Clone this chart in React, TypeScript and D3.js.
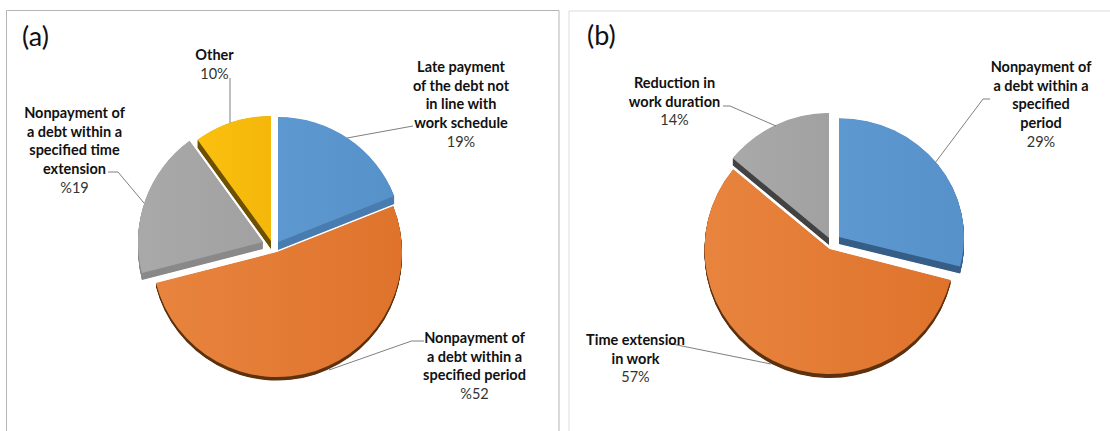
import React from "react";
import * as d3 from "d3";

// Survey shares for each panel, in clockwise order from twelve o'clock.
const seriesA = [19, 52, 19, 10];
const seriesB = [29, 57, 14];

const labelsA = [
  ["Late payment", "of the debt not", "in line with", "work schedule"],
  ["Nonpayment of", "a debt within a", "specified period"],
  ["Nonpayment of", "a debt within a", "specified time", "extension"],
  ["Other"],
];
const labelsB = [
  ["Nonpayment of", "a debt within a", "specified", "period"],
  ["Time extension", "in work"],
  ["Reduction in", "work duration"],
];
const valueTextA = ["19%", "%52", "%19", "10%"];
const valueTextB = ["29%", "57%", "14%"];

const W = 1110;
const H = 431;
const R = 125;
const FONT = "Lato, 'Open Sans', sans-serif";
const LINE_H = 18.7;

type Tone = { id: string; from: string; to: string; side: string };
const TONES: Record<string, Tone> = {
  blue: { id: "g-blue", from: "#5e98d0", to: "#5791c9", side: "#4a7db0" },
  orange: { id: "g-orange", from: "#e8843e", to: "#df732c", side: "#5e3310" },
  gray: { id: "g-gray", from: "#a9a9a9", to: "#a1a1a1", side: "#8a8a8a" },
  yellow: { id: "g-yellow", from: "#fbc00f", to: "#f4b70a", side: "#6f5200" },
  blueDark: { id: "g-blue2", from: "#5e98d0", to: "#5791c9", side: "#375f88" },
  grayDark: { id: "g-gray2", from: "#a9a9a9", to: "#a1a1a1", side: "#444444" },
};

// Layout of each exploded wedge: offset from the pie centre, extrusion depth
// and the vertical foreshortening from the tilted view.
const layoutA = {
  cx: 272,
  cy: 244,
  tones: ["blue", "orange", "gray", "yellow"],
  shift: [[6, -2], [5, 8], [-9, -2], [-1, -3]],
  depth: [8, 3.5, 7, 8],
  squash: [1, 1, 1, 1],
  textAt: [[461, 66], [474.5, 337], [74.5, 112], [214.5, 54]],
  leaders: [
    [[413, 126], [347, 138]],
    [[424, 341], [411.5, 341], [329, 370]],
    [[108, 172], [118, 172], [144, 203]],
    [[230, 78], [230, 123]],
  ],
};
const layoutB = {
  cx: 832,
  cy: 243,
  tones: ["blueDark", "orange", "grayDark"],
  shift: [[7, -6], [-2.5, 6], [-3, -5]],
  depth: [7, 4, 7],
  squash: [0.95, 1, 1],
  textAt: [[1041, 66], [635.5, 339], [674.5, 82]],
  leaders: [
    [[990, 99], [983, 99], [935, 163]],
    [[669, 343], [677, 345], [771, 364]],
    [[723, 106], [730, 106], [776, 126]],
  ],
};

const pieGen = d3.pie<number>().sort(null).startAngle(0).endAngle(2 * Math.PI);
const arcGen = d3.arc<d3.PieArcDatum<number>>().innerRadius(0).outerRadius(R);
const linePath = d3.line<number[]>().x((p) => p[0]).y((p) => p[1]);

function Pie({
  values,
  labels,
  valueText,
  layout,
}: {
  values: number[];
  labels: string[][];
  valueText: string[];
  layout: typeof layoutA;
}) {
  const slices = pieGen(values);
  return (
    <g>
      {slices.map((s, i) => {
        const tone = TONES[layout.tones[i]];
        const [dx, dy] = layout.shift[i];
        const d = arcGen(s) as string;
        const x = layout.cx + dx;
        const y = layout.cy + dy;
        const sy = layout.squash[i];
        return (
          <g key={i}>
            {/* Extruded wall: the wedge repeated downward in its darker shade */}
            {d3.range(layout.depth[i], 0, -0.5).map((k) => (
              <path key={k} d={d} transform={`translate(${x},${y + k}) scale(1,${sy})`} fill={tone.side} />
            ))}
            <path
              d={d}
              transform={`translate(${x},${y}) scale(1,${sy})`}
              fill={`url(#${tone.id})`}
            />
          </g>
        );
      })}
      {layout.leaders.map((pts, i) => (
        <path key={i} d={linePath(pts) as string} fill="none" stroke="#7f7f7f" strokeWidth={1} />
      ))}
      {labels.map((lines, i) => {
        const [tx, ty] = layout.textAt[i];
        return (
          <text key={i} x={tx} textAnchor="middle" dominantBaseline="central" fontFamily={FONT} fontSize={14.5} fill="#111">
            {lines.map((line, j) => (
              <tspan key={j} x={tx} y={ty + j * LINE_H} fontWeight={700}>
                {line}
              </tspan>
            ))}
            <tspan x={tx} y={ty + lines.length * LINE_H} fill="#333">
              {valueText[i]}
            </tspan>
          </text>
        );
      })}
    </g>
  );
}

export default function App() {
  return (
    <svg
      width={W}
      height={H}
      viewBox={`0 0 ${W} ${H}`}
      style={{ position: "absolute", left: 0, top: 0, background: "#fff" }}
    >
      <defs>
        {Object.values(TONES).map((t) => (
          <linearGradient key={t.id} id={t.id} x1="0" x2="1" y1="0" y2="0">
            <stop offset="0%" stopColor={t.from} />
            <stop offset="100%" stopColor={t.to} />
          </linearGradient>
        ))}
      </defs>

      {/* Panel frames run off the bottom of the figure */}
      <path d={`M6.5,${H}V10.5H559V${H}`} fill="none" stroke="#b5b5b5" strokeWidth={1} />
      <path d={`M569,${H}V11H${W}`} fill="none" stroke="#dcdcdc" strokeWidth={1} />

      <text x={22} y={46} fontFamily={FONT} fontSize={27} fill="#111">(a)</text>
      <text x={587} y={45} fontFamily={FONT} fontSize={27} fill="#111">(b)</text>

      <Pie values={seriesA} labels={labelsA} valueText={valueTextA} layout={layoutA} />
      <Pie values={seriesB} labels={labelsB} valueText={valueTextB} layout={layoutB} />
    </svg>
  );
}
